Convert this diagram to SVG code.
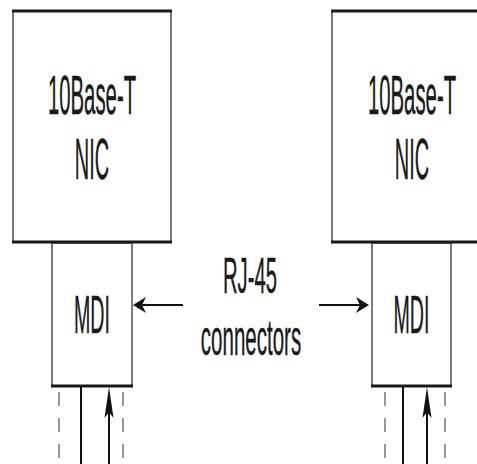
<svg xmlns="http://www.w3.org/2000/svg" width="477" height="464" viewBox="0 0 477 464">
<style>
.box{fill:#fff;stroke:#333;stroke-width:1.3}
.thick{stroke:#1a1a1a;stroke-width:3;fill:none}
.ln{stroke:#111;stroke-width:2;fill:none}
.dash{stroke:#555;stroke-width:1.2;stroke-dasharray:14 12;fill:none}
.t{font-family:"Liberation Sans",Arial,sans-serif;fill:#1a1a1a;stroke:#1a1a1a;stroke-width:0.4;text-anchor:middle}
.ah{fill:#111}
</style>
<rect width="477" height="464" fill="#fff"/>
<g id="nic-left">
<rect class="box" x="13" y="11" width="158" height="231"/>
<line class="thick" x1="12" y1="11" x2="172" y2="11"/>
<text class="t" transform="translate(92,114) scale(0.37,1)" font-size="55">10Base-T</text>
<text class="t" transform="translate(92,179) scale(0.35,1)" font-size="57">NIC</text>
</g>
<g id="mdi-left">
<rect class="box" x="52" y="243" width="80" height="143"/>
<text class="t" transform="translate(92,333) scale(0.37,1)" font-size="53">MDI</text>
</g>
<g id="nic-right">
<rect class="box" x="332" y="11" width="160" height="231"/>
<line class="thick" x1="331" y1="11" x2="477" y2="11"/>
<text class="t" transform="translate(412,114) scale(0.37,1)" font-size="55">10Base-T</text>
<text class="t" transform="translate(412,179) scale(0.35,1)" font-size="57">NIC</text>
</g>
<g id="mdi-right">
<rect class="box" x="372" y="243" width="79" height="143"/>
<text class="t" transform="translate(411.5,333) scale(0.37,1)" font-size="53">MDI</text>
</g>
<g id="label">
<text class="t" transform="translate(250,293) scale(0.405,1)" font-size="50">RJ-45</text>
<text class="t" transform="translate(251,355) scale(0.41,1)" font-size="50">connectors</text>
</g>
<g id="connectors">
<line class="thick" x1="12" y1="242" x2="172" y2="242"/>
<line class="thick" x1="331" y1="242" x2="477" y2="242"/>
<line class="thick" x1="51" y1="386" x2="133" y2="386"/>
<line class="thick" x1="371" y1="386" x2="452" y2="386"/>
<line class="ln" x1="142" y1="305" x2="183" y2="305"/>
<polygon class="ah" points="133,305 146,297 142,305 146,313"/>
<line class="ln" x1="319" y1="305" x2="360" y2="305"/>
<polygon class="ah" points="369,305 356,297 360,305 356,313"/>
<line class="ln" x1="81" y1="386" x2="81" y2="464"/>
<line class="ln" x1="109" y1="410" x2="109" y2="464"/>
<polygon class="ah" points="109,387 113.5,418 109,412 104.5,418"/>
<line class="dash" x1="59" y1="392" x2="59" y2="464"/>
<line class="dash" x1="123" y1="392" x2="123" y2="464"/>
<line class="ln" x1="403" y1="386" x2="403" y2="464"/>
<line class="ln" x1="427" y1="410" x2="427" y2="464"/>
<polygon class="ah" points="427,387 431.5,418 427,412 422.5,418"/>
<line class="dash" x1="385" y1="392" x2="385" y2="464"/>
<line class="dash" x1="445" y1="392" x2="445" y2="464"/>
</g>
</svg>
